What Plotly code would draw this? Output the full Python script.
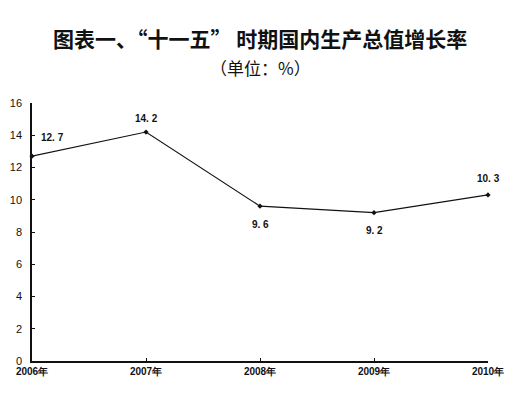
import plotly.graph_objects as go

years = ["2006年", "2007年", "2008年", "2009年", "2010年"]
growth = [12.7, 14.2, 9.6, 9.2, 10.3]
label_dx = [20, 0, 0, 0, 0]
label_dy = [19, 14, -18, -18, 16]
y_ticks = [0, 2, 4, 6, 8, 10, 12, 14, 16]

fig = go.Figure()
fig.add_trace(go.Scatter(
    x=list(range(len(years))), y=growth,
    mode="lines+markers",
    line=dict(color="#111111", width=1.2),
    marker=dict(symbol="diamond", size=4, color="#111111"),
    cliponaxis=False,
    showlegend=False,
))

for i, v in enumerate(growth):
    fig.add_annotation(x=i, y=v, xref="x", yref="y", text=f"{v:.1f}".replace(".", ". "),
                       showarrow=False, xshift=label_dx[i], yshift=label_dy[i],
                       font=dict(family="Liberation Sans", size=10, color="#111111", weight="bold"))

fig.update_layout(
    width=512, height=392,
    margin=dict(l=24, r=32, t=95, b=39),
    paper_bgcolor="white", plot_bgcolor="white",
    xaxis=dict(
        range=[0, 4], tickmode="array", tickvals=list(range(len(years))), ticktext=years,
        showgrid=False, zeroline=False, showline=True, linecolor="#111111", linewidth=1.5,
        ticks="inside", ticklen=3, tickcolor="#111111", automargin=False,
        tickfont=dict(family="Liberation Sans", size=10, color="#111111", weight="bold"),
    ),
    yaxis=dict(
        range=[0, 16], tickmode="array", tickvals=y_ticks,
        showgrid=False, zeroline=False, showline=True, linecolor="#111111", linewidth=1.5,
        ticks="inside", ticklen=3, tickcolor="#111111", automargin=False,
        ticklabelstandoff=6,
        tickfont=dict(family="Liberation Sans", size=11, color="#111111"),
    ),
)
fig.add_annotation(text="<b>图表一、“十一五” 时期国内生产总值增长率</b>", xref="paper", yref="paper",
                   x=0.5, y=1 + (95 - 30) / 258, showarrow=False, yanchor="middle",
                   font=dict(family="Noto Sans CJK SC", size=21, color="#111111"))
fig.add_annotation(text="（单位：%）", xref="paper", yref="paper",
                   x=0.5, y=1 + (95 - 60) / 258, showarrow=False, yanchor="middle",
                   font=dict(family="Noto Sans CJK SC", size=17, color="#111111"))

fig.write_html("out.html")
